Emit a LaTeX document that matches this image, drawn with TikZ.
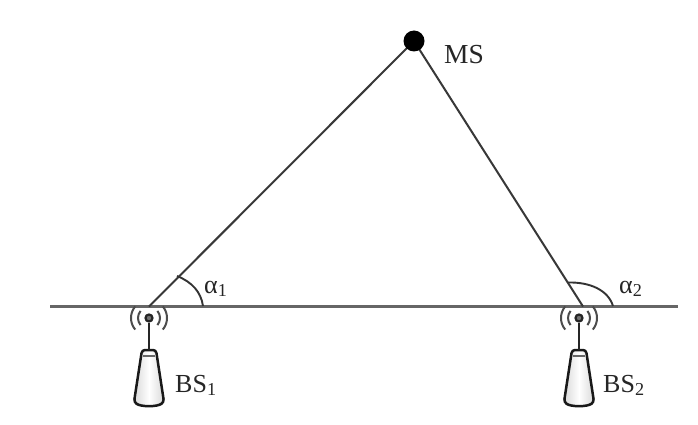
\documentclass[tikz,border=0pt]{standalone}
\usepackage{fontspec}
\setmainfont{Liberation Serif}
\begin{document}
\begin{tikzpicture}[x=1pt,y=-1pt,
  link/.style={draw=black!78,line width=2pt},
  ground/.style={draw=black!60,line width=2.2pt},
  anglearc/.style={draw=black!80,line width=1.9pt},
  lbl/.style={inner sep=0pt,text=black!85,font=\fontsize{26}{26}\selectfont},
  wave/.style={draw=black!70,line width=2pt},
  mast/.style={draw=black!85,line width=2.6pt},
  hub/.style={circle,draw=black!85,fill=black!55,line width=2.2pt,minimum size=7pt,inner sep=0pt},
  msdot/.style={circle,fill=black,minimum size=21pt,inner sep=0pt},
  towerbody/.style={draw=black!90,line width=2.5pt,rounded corners=3pt,left color=black!15,right color=black!15,middle color=white}]
\useasboundingbox (0,0) rectangle (698,425);
\fill[white] (0,0) rectangle (698,425);
\coordinate (gl) at (50,306.5);
\coordinate (gr) at (678,306.5);
\coordinate (b1) at (149,306.5);
\coordinate (b2) at (583,306.5);
\coordinate (mc) at (414,41);
\draw[ground] (gl) -- (gr);
\draw[link] (b1) -- (mc);
\draw[link] (b2) -- (mc);
\node[msdot] (ms) at (mc) {};
\draw[anglearc] (203,306) .. controls (201,292) and (192,282) .. (177,276);
\draw[anglearc] (613,306) .. controls (608,290) and (590,282) .. (568,282.5);
% stations
\foreach \n/\x in {a/149,b/579}{
  \draw[towerbody] (\x-7,350) -- (\x+7,350) -- (\x+15,402) .. controls (\x+8,407) and (\x-8,407) .. (\x-15,402) -- cycle;
  \draw[black!60,line width=1.2pt] (\x-6,356) -- (\x+6,356);
  \coordinate (top\n) at (\x,350);
  \node[hub] (hub\n) at (\x,318) {};
  \draw[mast] (hub\n) -- (top\n);
  \foreach \r in {11,18}{
    \draw[wave] (\x,318) ++(140:\r) arc[start angle=140,end angle=220,radius=\r];
    \draw[wave] (\x,318) ++(40:\r) arc[start angle=40,end angle=-40,radius=\r];
  }
}
\node[lbl,anchor=base west,font=\fontsize{27.5}{27.5}\selectfont] (lms) at (444,64) {MS};
\node[lbl,anchor=base west] (lb1) at (175,392) {BS\textsubscript{1}};
\node[lbl,anchor=base west] (lb2) at (603,392) {BS\textsubscript{2}};
\node[lbl,anchor=base west] (la1) at (204,293) {α\textsubscript{1}};
\node[lbl,anchor=base west] (la2) at (619,293) {α\textsubscript{2}};
\end{tikzpicture}
\end{document}
